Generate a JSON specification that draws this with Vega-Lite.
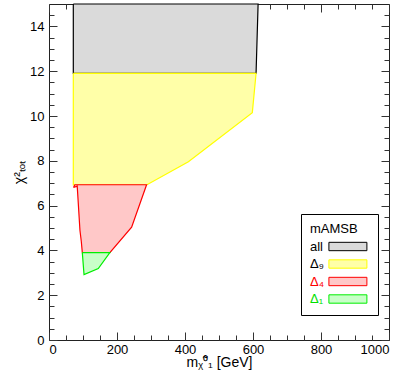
{
  "$schema": "https://vega.github.io/schema/vega-lite/v6.json",
  "width": 340,
  "height": 336,
  "autosize": "none",
  "padding": {"left": 49, "top": 4, "right": 16, "bottom": 42},
  "config": {
    "view": {"stroke": "#222222", "strokeWidth": 1},
    "font": "Liberation Sans",
    "axis": {"domain": false, "grid": false, "tickColor": "#333333", "tickWidth": 1, "labelFont": "Liberation Sans", "labelFontSize": 13, "labelColor": "#000000", "titleFont": "Liberation Sans", "titleFontSize": 14, "titleFontWeight": "normal", "titleColor": "#000000"}
  },
  "data": {"values": [
    {"region": "all", "i": 0, "x": 71.5, "y": 15},
    {"region": "all", "i": 1, "x": 615, "y": 15},
    {"region": "all", "i": 2, "x": 609, "y": 11.9},
    {"region": "all", "i": 3, "x": 71.5, "y": 11.9},
    {"region": "all", "i": 4, "x": 71.5, "y": 15},
    {"region": "Δ₉", "i": 0, "x": 71.5, "y": 11.9},
    {"region": "Δ₉", "i": 1, "x": 609, "y": 11.9},
    {"region": "Δ₉", "i": 2, "x": 598, "y": 10.15},
    {"region": "Δ₉", "i": 3, "x": 410, "y": 7.96},
    {"region": "Δ₉", "i": 4, "x": 287, "y": 6.92},
    {"region": "Δ₉", "i": 5, "x": 71.5, "y": 6.92},
    {"region": "Δ₉", "i": 6, "x": 71.5, "y": 11.9},
    {"region": "Δ₄", "i": 0, "x": 72, "y": 6.81},
    {"region": "Δ₄", "i": 1, "x": 76, "y": 6.93},
    {"region": "Δ₄", "i": 2, "x": 287, "y": 6.93},
    {"region": "Δ₄", "i": 3, "x": 243, "y": 5.04},
    {"region": "Δ₄", "i": 4, "x": 179, "y": 3.9},
    {"region": "Δ₄", "i": 5, "x": 98, "y": 3.9},
    {"region": "Δ₄", "i": 6, "x": 95, "y": 4.4},
    {"region": "Δ₄", "i": 7, "x": 91, "y": 4.9},
    {"region": "Δ₄", "i": 8, "x": 83, "y": 6.87},
    {"region": "Δ₄", "i": 9, "x": 72, "y": 6.81},
    {"region": "Δ₁", "i": 0, "x": 98, "y": 3.9},
    {"region": "Δ₁", "i": 1, "x": 179, "y": 3.9},
    {"region": "Δ₁", "i": 2, "x": 145, "y": 3.19},
    {"region": "Δ₁", "i": 3, "x": 103, "y": 2.92},
    {"region": "Δ₁", "i": 4, "x": 98, "y": 3.9}
  ]},
  "layer": [
    {
      "mark": {"type": "line", "strokeWidth": 1.2},
      "encoding": {
        "x": {"field": "x", "type": "quantitative", "scale": {"domain": [0, 1000], "nice": false},
          "axis": {"orient": "bottom", "values": [0,50,100,150,200,250,300,350,400,450,500,550,600,650,700,750,800,850,900,950,1000],
            "labelExpr": "datum.value % 200 === 0 ? format(datum.value, 'd') : ''", "labelOverlap": false,
            "tickSize": {"condition": {"test": "datum.value % 200 === 0", "value": -8}, "value": -5},
            "labelPadding": 11, "title": "mᵪ̃⁰₁ [GeV]", "titlePadding": -4}},
        "y": {"field": "y", "type": "quantitative", "scale": {"domain": [0, 15], "nice": false},
          "axis": {"orient": "left", "values": [0,0.5,1,1.5,2,2.5,3,3.5,4,4.5,5,5.5,6,6.5,7,7.5,8,8.5,9,9.5,10,10.5,11,11.5,12,12.5,13,13.5,14,14.5],
            "labelExpr": "datum.value % 2 === 0 ? format(datum.value, 'd') : ''", "labelOverlap": false,
            "tickSize": {"condition": {"test": "datum.value % 2 === 0", "value": -8}, "value": -5},
            "labelPadding": 13, "title": "χ²ₜₒₜ", "titlePadding": 3}},
        "order": {"field": "i", "type": "quantitative"},
        "fill": {"field": "region", "type": "nominal",
          "scale": {"domain": ["all", "Δ₉", "Δ₄", "Δ₁"], "range": ["#dadada", "#ffffa8", "#ffc8c8", "#c8ffc8"]},
          "legend": {"orient": "none", "legendX": 252, "legendY": 210, "title": "mAMSB", "titleFontSize": 13, "titleFontWeight": "normal", "titleColor": "#000000", "titlePadding": 2,
            "labelFontSize": 13, "symbolType": "M-2.5,-0.55H2.5V0.55H-2.5Z", "symbolSize": 231, "symbolOffset": 29.4,
            "rowPadding": 1.5, "padding": 9, "strokeColor": "#000000", "symbolStrokeWidth": 1,
            "encode": {"labels": {"update": {"x": {"value": 0}, "fill": {"signal": "datum.value === 'Δ₄' ? '#ff0000' : datum.value === 'Δ₁' ? '#00e000' : '#000000'"}}}}}},
        "stroke": {"field": "region", "type": "nominal",
          "scale": {"domain": ["all", "Δ₉", "Δ₄", "Δ₁"], "range": ["#000000", "#ffff00", "#ff0000", "#00ee00"]},
          "legend": {"orient": "none", "legendX": 252, "legendY": 210, "title": "mAMSB", "titleFontSize": 13, "titleFontWeight": "normal", "titleColor": "#000000", "titlePadding": 2,
            "labelFontSize": 13, "symbolType": "M-2.5,-0.55H2.5V0.55H-2.5Z", "symbolSize": 231, "symbolOffset": 29.4,
            "rowPadding": 1.5, "padding": 9, "strokeColor": "#000000", "symbolStrokeWidth": 1,
            "encode": {"labels": {"update": {"x": {"value": 0}, "fill": {"signal": "datum.value === 'Δ₄' ? '#ff0000' : datum.value === 'Δ₁' ? '#00e000' : '#000000'"}}}}}}
      }
    },
    {
      "mark": {"type": "point", "opacity": 0},
      "encoding": {
        "x": {"field": "x", "type": "quantitative",
          "axis": {"orient": "top", "values": [0,50,100,150,200,250,300,350,400,450,500,550,600,650,700,750,800,850,900,950,1000],
            "labels": false, "title": null,
            "tickSize": {"condition": {"test": "datum.value % 200 === 0", "value": -8}, "value": -5}}},
        "y": {"field": "y", "type": "quantitative",
          "axis": {"orient": "right", "values": [0,0.5,1,1.5,2,2.5,3,3.5,4,4.5,5,5.5,6,6.5,7,7.5,8,8.5,9,9.5,10,10.5,11,11.5,12,12.5,13,13.5,14,14.5],
            "labels": false, "title": null,
            "tickSize": {"condition": {"test": "datum.value % 2 === 0", "value": -8}, "value": -5}}}
      }
    }
  ],
  "resolve": {"axis": {"x": "independent", "y": "independent"}}
}
